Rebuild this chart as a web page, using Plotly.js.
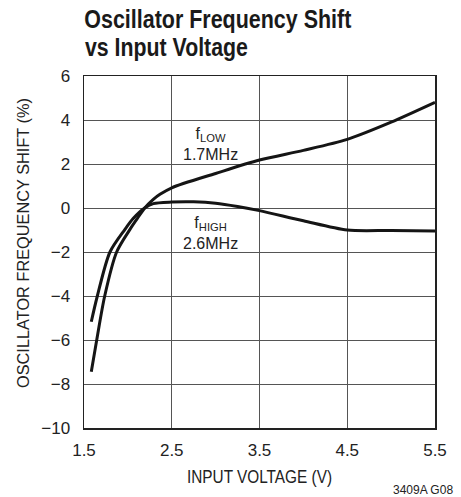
<!DOCTYPE html>
<html>
<head>
<meta charset="utf-8">
<script src="https://cdn.plot.ly/plotly-3.0.1.min.js"></script>
<style>html,body{margin:0;padding:0;background:#fff;}#chart{width:461px;height:497px;}</style>
</head>
<body>
<div id="chart"></div>
<script>
// Input voltage (V) and frequency shift (%)
var fLowVoltage  = [1.583, 1.645, 1.736, 1.872, 2.024, 2.107, 2.195, 2.29, 2.366, 2.5, 3.0, 3.5, 4.0, 4.5, 5.0, 5.5];
var fLowShift    = [-7.44, -6.0, -4.0, -2.0, -0.97, -0.48, 0.01, 0.39, 0.62, 0.92, 1.57, 2.18, 2.62, 3.12, 3.9, 4.8];
var fHighVoltage = [1.583, 1.652, 1.796, 1.967, 2.06, 2.195, 2.29, 2.5, 2.75, 3.0, 3.25, 3.5, 4.0, 4.5, 5.0, 5.5];
var fHighShift   = [-5.17, -4.0, -2.0, -0.97, -0.48, 0.01, 0.2, 0.27, 0.28, 0.22, 0.07, -0.12, -0.58, -1.0, -1.02, -1.04];

var xTickVals = [1.5, 2.5, 3.5, 4.5, 5.5];
var xTickText = ["1.5", "2.5", "3.5", "4.5", "5.5"];
var yTickVals = [-10, -8, -6, -4, -2, 0, 2, 4, 6];
var yTickText = ["\u221210", "\u22128", "\u22126", "\u22124", "\u22122", "0", "2", "4", "6"];

var titleLine1 = "Oscillator Frequency Shift";
var titleLine2 = "vs Input Voltage";
var xTitle = "INPUT VOLTAGE (V)";
var yTitle = "OSCILLATOR FREQUENCY SHIFT (%)";
var labelLow = "f<sub>LOW</sub><br>1.7MHz";
var labelHigh = "f<sub>HIGH</sub><br>2.6MHz";
var footnote = "3409A G08";

var FONT = "Liberation Sans, Arial, Helvetica, sans-serif";

var lineStyle = {color: "#151515", width: 3, shape: "spline", smoothing: 0.8};

var traces = [
  {x: fLowVoltage, y: fLowShift, mode: "lines", line: lineStyle, name: "fLOW", hoverinfo: "x+y"},
  {x: fHighVoltage, y: fHighShift, mode: "lines", line: lineStyle, name: "fHIGH", hoverinfo: "x+y"}
];

var axisCommon = {
  showgrid: true, gridcolor: "#555", gridwidth: 1,
  showline: true, linecolor: "#222", linewidth: 1.5, mirror: true,
  zeroline: false, ticks: "outside", tickcolor: "rgba(0,0,0,0)",
  tickfont: {family: FONT, size: 17, color: "#222"}
};

var layout = {
  width: 461, height: 497,
  margin: {l: 84, r: 26, t: 76, b: 69},
  paper_bgcolor: "#fff", plot_bgcolor: "#fff",
  showlegend: false,
  xaxis: Object.assign({}, axisCommon, {
    range: [1.5, 5.5], tickvals: xTickVals, ticktext: xTickText, ticklen: 6,
    title: {text: xTitle, font: {family: FONT, size: 18, color: "#222"}, standoff: 11}
  }),
  yaxis: Object.assign({}, axisCommon, {
    range: [-10, 6], tickvals: yTickVals, ticktext: yTickText, ticklen: 9
  }),
  annotations: [
    {text: "<b>" + titleLine1 + "</b>", xref: "paper", yref: "paper", x: (217.5 - 84) / 351, y: 1 + 57/352,
     xanchor: "center", yanchor: "middle", showarrow: false,
     font: {family: FONT, size: 26, color: "#1a1a1a"}},
    {text: "<b>" + titleLine2 + "</b>", xref: "paper", yref: "paper", x: (166.5 - 84) / 351, y: 1 + 29.5/352,
     xanchor: "center", yanchor: "middle", showarrow: false,
     font: {family: FONT, size: 26, color: "#1a1a1a"}},
    {text: yTitle, xref: "paper", yref: "paper", x: (23 - 84) / 351, y: (428 - 243) / 352,
     xanchor: "center", yanchor: "middle", textangle: -90, showarrow: false,
     font: {family: FONT, size: 17, color: "#222"}},
    {text: labelLow, xref: "x", yref: "y", x: 2.94, y: 2.9, showarrow: false,
     xanchor: "center", yanchor: "middle", font: {family: FONT, size: 16, color: "#222"}},
    {text: labelHigh, xref: "x", yref: "y", x: 2.94, y: -1.14, showarrow: false,
     xanchor: "center", yanchor: "middle", font: {family: FONT, size: 16, color: "#222"}},
    {text: footnote, xref: "paper", yref: "paper", x: 1 + 20/351, y: -(62/352),
     xanchor: "right", yanchor: "middle", showarrow: false,
     font: {family: FONT, size: 12, color: "#222"}}
  ]
};

// Condensed look of the original typography: squeeze selected texts to measured widths
var squeeze = [
  {match: titleLine1, width: 267},
  {match: titleLine2, width: 163},
  {match: xTitle, width: 145},
  {match: yTitle, width: 290}
];

Plotly.newPlot("chart", traces, layout, {staticPlot: true, displayModeBar: false}).then(function () {
  var texts = document.querySelectorAll("#chart text");
  texts.forEach(function (t) {
    squeeze.forEach(function (s) {
      if (t.textContent === s.match) {
        t.setAttribute("textLength", s.width);
        t.setAttribute("lengthAdjust", "spacingAndGlyphs");
      }
    });
  });
});
</script>
</body>
</html>
